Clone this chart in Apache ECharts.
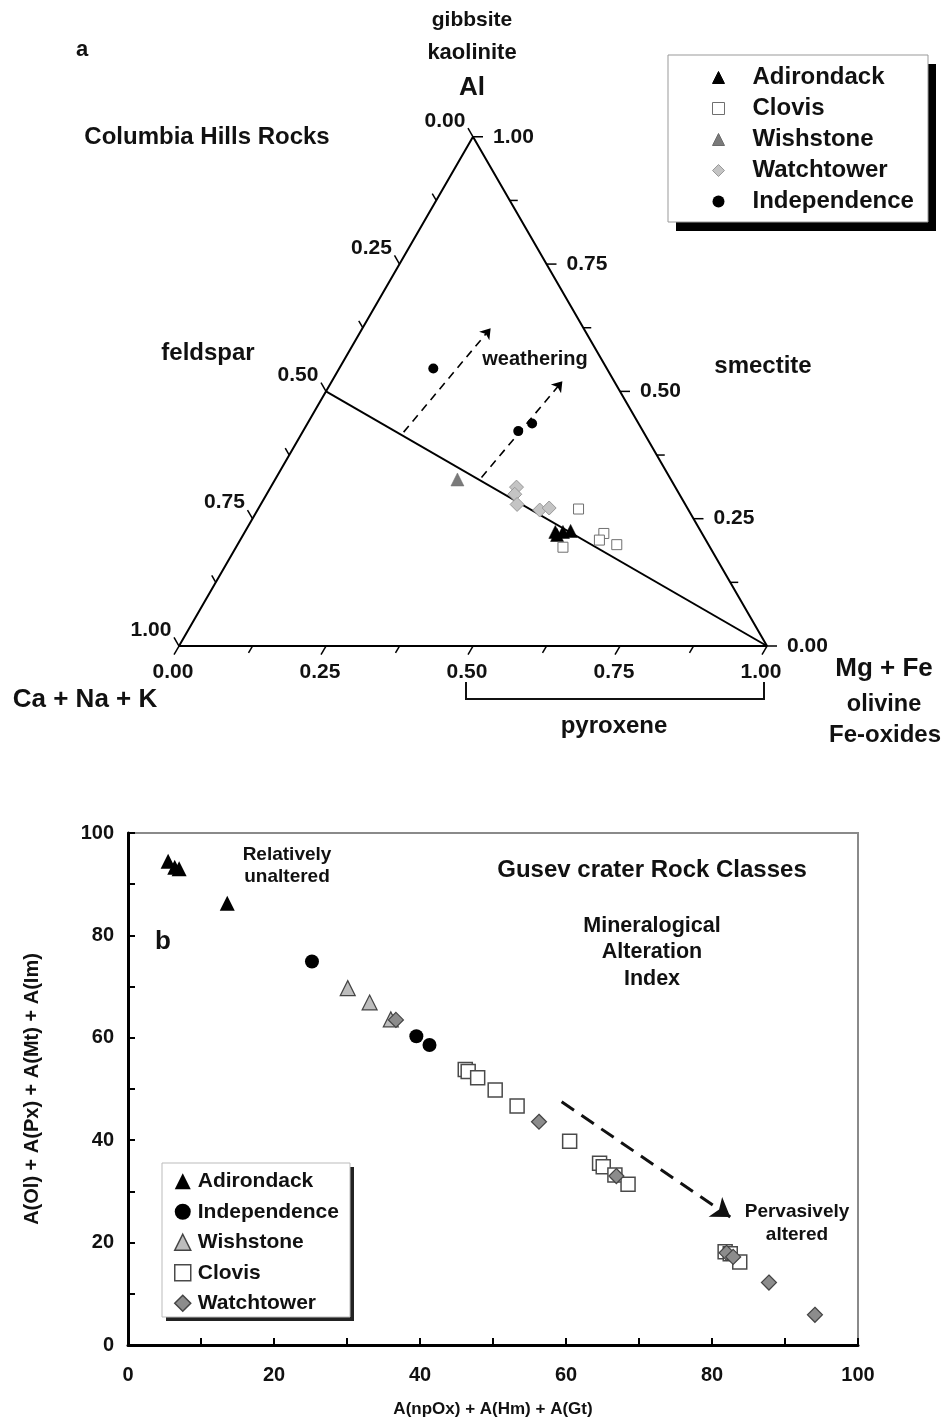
<!DOCTYPE html>
<html><head><meta charset="utf-8">
<script src="https://cdn.jsdelivr.net/npm/echarts@6/dist/echarts.min.js"></script>
<style>html,body{margin:0;padding:0;background:#fff}#c{width:945px;height:1425px}</style>
</head><body><div id="c"></div>
<script>
// ---------- Panel a : ternary data, each point = [Ca+Na+K, Al, Mg+Fe]
const adirondackT   = [[0.248,0.224,0.528],[0.248,0.218,0.534],[0.235,0.224,0.541],[0.221,0.226,0.553]];
const clovisT       = [[0.186,0.269,0.545],[0.167,0.221,0.612],[0.181,0.208,0.611],[0.156,0.199,0.645],[0.250,0.194,0.556]];
const wishstoneT    = [[0.363,0.327,0.310]];
const watchtowerT   = [[0.270,0.312,0.418],[0.280,0.298,0.422],[0.286,0.278,0.436],[0.253,0.267,0.480],[0.235,0.271,0.494]];
const independenceT = [[0.295,0.545,0.160],[0.212,0.422,0.366],[0.181,0.437,0.382]];
const triangleT     = [[1,0,0],[0,0,1],[0,1,0],[1,0,0]];
const feldsparLineT = [[0.5,0.5,0],[0,0,1]];
const weatheringArrowsT = [
  [[0.408,0.420,0.172],[0.158,0.624,0.218]],
  [[0.320,0.331,0.349],[0.088,0.520,0.392]]
];
const ternaryTickValues = [0, 0.125, 0.25, 0.375, 0.5, 0.625, 0.75, 0.875, 1];
const ternaryTickLabels = ['0.00', '', '0.25', '', '0.50', '', '0.75', '', '1.00'];
const pyroxeneRange = [0.5, 1.0];   // Mg+Fe fraction range on bottom axis

// ---------- Panel b : [A(npOx)+A(Hm)+A(Gt), A(Ol)+A(Px)+A(Mt)+A(Im)]
const adirondackB   = [[5.5,94.5],[6.4,93.3],[7.0,93.0],[13.6,86.3]];
const independenceB = [[25.2,74.9],[39.5,60.3],[41.3,58.6]];
const wishstoneB    = [[30.1,69.7],[33.1,66.9],[36.0,63.6]];
const clovisB       = [[46.2,53.8],[46.6,53.4],[47.9,52.2],[50.3,49.8],[53.3,46.7],[60.5,39.8],[64.6,35.5],[65.1,34.8],[66.7,33.2],[68.5,31.4],[81.8,18.2],[82.5,17.8],[83.8,16.2]];
const watchtowerB   = [[36.7,63.5],[56.3,43.6],[66.9,33.0],[82.0,18.0],[82.9,17.2],[87.8,12.2],[94.1,5.9]];
const alterationArrowB = [[59.4,47.5],[82.5,25.0]];
const xTicksB = [0,20,40,60,80,100];
const yTicksB = [0,20,40,60,80,100];

// ---------- helpers
const S3 = Math.sqrt(3) / 2;
function toCart(t) { return [t[2] + t[1] / 2, t[1] * S3]; }
const FF = '"Liberation Sans", Arial, sans-serif';
function f(sz) { return 'bold ' + sz + 'px ' + FF; }

const tickRows = [];
[0, 1, 2].forEach(function (side) {
  ternaryTickValues.forEach(function (v, i) { tickRows.push([side, v, ternaryTickLabels[i]]); });
});

function tickItem(params, api) {
  const row = tickRows[params.dataIndex];
  const side = row[0], v = row[1], label = row[2];
  let tri;
  if (side === 0) tri = [1 - v, 0, v];        // bottom: Mg+Fe
  else if (side === 1) tri = [v, 1 - v, 0];   // left: Ca+Na+K
  else tri = [0, v, 1 - v];                   // right: Al
  const p = api.coord(toCart(tri));
  const dir = side === 0 ? [-0.5, 0.866] : side === 1 ? [-0.5, -0.866] : [1, 0];
  const len = label ? 10 : 8;
  const children = [{
    type: 'line',
    shape: { x1: p[0], y1: p[1], x2: p[0] + dir[0] * len, y2: p[1] + dir[1] * len },
    style: { stroke: '#000', lineWidth: 1.5 }
  }];
  if (label) {
    let tx, ty, al = 'center';
    if (side === 0) { tx = p[0] - 6; ty = p[1] + 26; }
    else if (side === 1) { tx = p[0] - 28; ty = p[1] - 16; }
    else { tx = p[0] + 20; ty = p[1]; al = 'left'; }
    children.push({ type: 'text', x: tx, y: ty,
      style: { text: label, font: f(21), fill: '#111', align: al, verticalAlign: 'middle' } });
  }
  return { type: 'group', children: children };
}

function bracketItem(params, api) {
  const p1 = api.coord([pyroxeneRange[0], 0]);
  const p2 = api.coord([pyroxeneRange[1], 0]);
  return { type: 'polyline',
    shape: { points: [[p1[0] - 7, p1[1] + 36], [p1[0] - 7, p1[1] + 53], [p2[0] - 3, p2[1] + 53], [p2[0] - 3, p2[1] + 36]] },
    style: { stroke: '#111', lineWidth: 2, fill: null } };
}

function T(arr) { return arr.map(toCart); }
const topBase = { type: 'scatter', xAxisIndex: 0, yAxisIndex: 0, z: 5 };
const botBase = { type: 'scatter', xAxisIndex: 1, yAxisIndex: 1, z: 5 };

const gText = function (txt, x, y, sz) {
  return { type: 'text', x: x, y: y, z: 10,
    style: { text: txt, font: f(sz), fill: '#111', align: 'center', verticalAlign: 'middle' } };
};
const gBox = function (x, y, w, h, stroke, shadowDx, shadowDy, shadowColor) {
  return [
    { type: 'rect', z: 1, shape: { x: x + shadowDx, y: y + shadowDy, width: w, height: h },
      style: { fill: shadowColor, stroke: null } },
    { type: 'rect', z: 2, shape: { x: x, y: y, width: w, height: h },
      style: { fill: '#fff', stroke: stroke, lineWidth: 1 } }
  ];
};

const option = {
  animation: false,
  backgroundColor: '#fff',
  grid: [
    { left: 179, top: 646 - 588 * S3, width: 588, height: 588 * S3, show: false },
    { left: 128, top: 833, width: 730, height: 512, show: true, borderColor: '#8a8a8a', borderWidth: 2, backgroundColor: '#fff' }
  ],
  xAxis: [
    { gridIndex: 0, type: 'value', min: 0, max: 1, show: false },
    { gridIndex: 1, type: 'value', min: 0, max: 100, interval: 10,
      axisLine: { show: true, lineStyle: { color: '#000', width: 3 } },
      axisTick: { show: true, inside: true, length: 7, lineStyle: { color: '#000', width: 2 } },
      axisLabel: { margin: 20, color: '#111', fontFamily: FF, fontWeight: 'bold', fontSize: 20,
        formatter: function (v) { return xTicksB.indexOf(v) >= 0 ? String(v) : ''; } },
      splitLine: { show: false },
      name: 'A(npOx) + A(Hm) + A(Gt)', nameLocation: 'middle', nameGap: 56,
      nameTextStyle: { color: '#111', fontFamily: FF, fontWeight: 'bold', fontSize: 17 } }
  ],
  yAxis: [
    { gridIndex: 0, type: 'value', min: 0, max: S3, show: false },
    { gridIndex: 1, type: 'value', min: 0, max: 100, interval: 10,
      axisLine: { show: true, lineStyle: { color: '#000', width: 3 } },
      axisTick: { show: true, inside: true, length: 7, lineStyle: { color: '#000', width: 2 } },
      axisLabel: { margin: 14, color: '#111', fontFamily: FF, fontWeight: 'bold', fontSize: 20,
        formatter: function (v) { return yTicksB.indexOf(v) >= 0 ? String(v) : ''; } },
      splitLine: { show: false },
      name: 'A(Ol) + A(Px) + A(Mt) + A(Im)', nameLocation: 'middle', nameGap: 86, nameRotate: 90,
      nameTextStyle: { color: '#111', fontFamily: FF, fontWeight: 'bold', fontSize: 20 } }
  ],
  legend: [
    { orient: 'vertical', left: 712, top: 62, itemWidth: 12, itemHeight: 12, itemGap: 0, padding: 0, z: 20,
      itemStyle: { borderWidth: 1, opacity: 1 },
      textStyle: { fontFamily: FF, fontWeight: 'bold', fontSize: 24, color: '#111', lineHeight: 31,
        padding: [0, 0, 0, 23] },
      data: ['Adirondack', 'Clovis', 'Wishstone', 'Watchtower', 'Independence'] },
    { orient: 'vertical', left: 174, top: 1166, itemWidth: 16, itemHeight: 16, itemGap: 0, padding: 0, z: 20,
      itemStyle: { borderWidth: 1.5, opacity: 1 },
      formatter: function (n) { return n.replace(/^b-/, ''); },
      textStyle: { fontFamily: FF, fontWeight: 'bold', fontSize: 21, color: '#111', lineHeight: 30.5,
        padding: [0, 0, 0, 2] },
      data: ['b-Adirondack', 'b-Independence', 'b-Wishstone', 'b-Clovis', 'b-Watchtower'] }
  ],
  series: [
    // ---- ternary frame
    { type: 'line', xAxisIndex: 0, yAxisIndex: 0, data: T(triangleT), symbol: 'none', clip: false,
      lineStyle: { color: '#000', width: 2 }, z: 3 },
    { type: 'line', xAxisIndex: 0, yAxisIndex: 0, data: T(feldsparLineT), symbol: 'none', clip: false,
      lineStyle: { color: '#000', width: 2 }, z: 3 },
    { type: 'custom', xAxisIndex: 0, yAxisIndex: 0, data: tickRows.map(function (r) { return [r[1], r[0]]; }),
      renderItem: tickItem, z: 3, silent: true },
    { type: 'custom', xAxisIndex: 0, yAxisIndex: 0, data: [pyroxeneRange], renderItem: bracketItem, z: 3, silent: true },
    { type: 'lines', coordinateSystem: 'cartesian2d', xAxisIndex: 0, yAxisIndex: 0, z: 4,
      data: weatheringArrowsT.map(function (a) { return { coords: a.map(toCart) }; }),
      symbol: ['none', 'arrow'], symbolSize: 10,
      lineStyle: { color: '#000', width: 1.6, type: [8, 6], opacity: 1 } },
    // ---- ternary points
    Object.assign({}, topBase, { name: 'Adirondack', data: T(adirondackT), symbol: 'triangle', symbolSize: 13,
      itemStyle: { color: '#000', borderColor: '#000', borderWidth: 0.5, opacity: 1 } }),
    Object.assign({}, topBase, { name: 'Clovis', data: T(clovisT), symbol: 'rect', symbolSize: 10,
      itemStyle: { color: '#fff', borderColor: '#6f6f6f', borderWidth: 1, opacity: 1 } }),
    Object.assign({}, topBase, { name: 'Wishstone', data: T(wishstoneT), symbol: 'triangle', symbolSize: 13,
      itemStyle: { color: '#7a7a7a', borderColor: '#6a6a6a', borderWidth: 0.5, opacity: 1 } }),
    Object.assign({}, topBase, { name: 'Watchtower', data: T(watchtowerT), symbol: 'diamond', symbolSize: 14,
      itemStyle: { color: '#c4c4c4', borderColor: '#999', borderWidth: 1, opacity: 1 } }),
    Object.assign({}, topBase, { name: 'Independence', data: T(independenceT), symbol: 'circle', symbolSize: 10,
      itemStyle: { color: '#000', opacity: 1 } }),
    // ---- panel b points
    Object.assign({}, botBase, { name: 'b-Clovis', data: clovisB, symbol: 'rect', symbolSize: 14,
      itemStyle: { color: '#fff', borderColor: '#4a4a4a', borderWidth: 1.5, opacity: 1 } }),
    Object.assign({}, botBase, { name: 'b-Adirondack', data: adirondackB, symbol: 'triangle', symbolSize: 15,
      itemStyle: { color: '#000', opacity: 1 } }),
    Object.assign({}, botBase, { name: 'b-Independence', data: independenceB, symbol: 'circle', symbolSize: 14,
      itemStyle: { color: '#000', opacity: 1 } }),
    Object.assign({}, botBase, { name: 'b-Wishstone', data: wishstoneB, symbol: 'triangle', symbolSize: 15,
      itemStyle: { color: '#bdbdbd', borderColor: '#444', borderWidth: 1.2, opacity: 1 } }),
    Object.assign({}, botBase, { name: 'b-Watchtower', data: watchtowerB, symbol: 'diamond', symbolSize: 15,
      itemStyle: { color: '#8c8c8c', borderColor: '#444', borderWidth: 1.2, opacity: 1 } }),
    { type: 'lines', coordinateSystem: 'cartesian2d', xAxisIndex: 1, yAxisIndex: 1, z: 4,
      data: [{ coords: alterationArrowB }],
      symbol: ['none', 'arrow'], symbolSize: 18,
      lineStyle: { color: '#111', width: 3, type: [15, 9], opacity: 1 } }
  ],
  graphic: [].concat(
    gBox(668, 55, 260, 167, '#999', 8, 9, '#000'),
    gBox(162, 1163, 188, 154, '#bbb', 4, 4, '#222'),
    [
      gText('a', 82, 50, 22),
      gText('gibbsite', 472, 20, 21),
      gText('kaolinite', 472, 53, 22),
      gText('Al', 472, 88, 26),
      gText('Columbia Hills Rocks', 207, 137, 24),
      gText('feldspar', 208, 353, 24),
      gText('smectite', 763, 366, 24),
      gText('weathering', 535, 359, 20),
      gText('Ca + Na + K', 85, 700, 26),
      gText('Mg + Fe', 884, 669, 26),
      gText('olivine', 884, 705, 23.5),
      gText('Fe-oxides', 885, 735, 24),
      gText('pyroxene', 614, 726, 24),
      gText('Relatively', 287, 855, 19),
      gText('unaltered', 287, 877, 19),
      gText('Gusev crater Rock Classes', 652, 870, 24),
      gText('Mineralogical', 652, 926, 21.5),
      gText('Alteration', 652, 952, 21.5),
      gText('Index', 652, 979, 21.5),
      gText('b', 163, 942, 26),
      gText('Pervasively', 797, 1212, 19),
      gText('altered', 797, 1235, 19)
    ])
};

const chart = echarts.init(document.getElementById('c'), null, { renderer: 'canvas' });
chart.setOption(option);
</script>
</body></html>
